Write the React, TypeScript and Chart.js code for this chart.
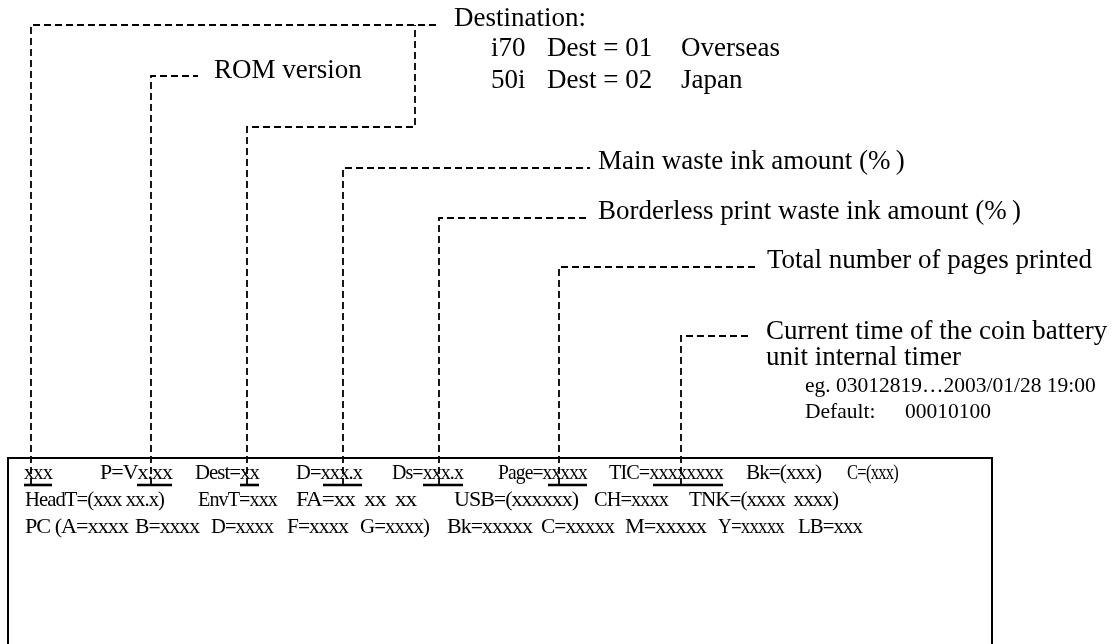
import React, { useEffect, useRef } from "react";
import { Chart, registerables } from "chart.js";

Chart.register(...registerables);

// ---- Leader lines (diagram coordinates: x to the right, y downward) ----
const leaderXxx = [[31, 485], [31, 25], [437, 25]];
const leaderDest = [[247, 485], [247, 127], [415, 127], [415, 25]];
const leaderRom = [[151, 485], [151, 76], [198, 76]];
const leaderMain = [[343, 485], [343, 168], [590, 168]];
const leaderBorderless = [[439, 485], [439, 218], [590, 218]];
const leaderPage = [[559, 485], [559, 267], [755, 267]];
const leaderTic = [[681, 485], [681, 336], [752, 336]];

// ---- Print-out frame ----
const frameOutline = [[8, 660], [8, 458], [992, 458], [992, 660]];

// ---- Underlined fields in first row ----
const underlineStart = [24, 137, 240, 323, 423, 548, 653];
const underlineEnd = [52, 172, 259, 362, 463, 587, 723];
const underlineY = 485;

// ---- Callout labels ----
const calloutText = [
  "Destination:",
  "ROM version",
  "Main waste ink amount (%\u2009)",
  "Borderless print waste ink amount (%\u2009)",
  "Total number of pages printed",
  "Current time of the coin battery",
  "unit internal timer",
];
const calloutX = [454, 214, 598, 598, 767, 766, 766];
const calloutY = [19, 71, 162, 212, 261, 332, 358];

// ---- Destination table ----
const destModels = ["i70", "50i"];
const destCodes = ["Dest = 01", "Dest = 02"];
const destRegions = ["Overseas", "Japan"];
const destRowY = [49, 81];
const destColX = [491, 547, 681];

// ---- Timer notes ----
const noteText = ["eg. 03012819…2003/01/28 19:00", "Default:", "00010100"];
const noteX = [805, 805, 905];
const noteY = [386, 412, 412];

// ---- Print-out rows ----
const row1Text = ["xxx", "P=Vx.xx", "Dest=xx", "D=xxx.x", "Ds=xxx.x", "Page=xxxxx", "TIC=xxxxxxxx", "Bk=(xxx)", "C=(xxx)"];
const row1X = [24, 100, 195, 296, 392, 498, 609, 746, 847];
const row1W = [28, 72, 64, 66, 71, 89, 114, 75, 51];
const row2Text = ["HeadT=(xxx xx.x)", "EnvT=xxx", "FA=xx  xx  xx", "USB=(xxxxxx)", "CH=xxxx", "TNK=(xxxx  xxxx)"];
const row2X = [25, 198, 296, 454, 594, 689];
const row2W = [139, 79, 120, 124, 74, 149];
const row3Text = ["PC (A=xxxx", "B=xxxx", "D=xxxx", "F=xxxx", "G=xxxx)", "Bk=xxxxx", "C=xxxxx", "M=xxxxx", "Y=xxxxx", "LB=xxx"];
const row3X = [25, 135, 211, 287, 360, 447, 541, 625, 718, 798];
const row3W = [103, 64, 62, 61, 69, 85, 73, 81, 66, 64];
const rowY = [473, 500, 527];

const LABEL_FONT = '27px "Liberation Serif"';
const NOTE_FONT = '21.5px "Liberation Serif"';
const BOX_FONT = '22px "Liberation Serif"';

const toPts = (arr: number[][]) => arr.map(([x, y]) => ({ x, y }));

export default function App() {
  const ref = useRef<HTMLCanvasElement | null>(null);

  useEffect(() => {
    document.body.style.margin = "0";
    const canvas = ref.current;
    if (!canvas) return;

    const dashed = (data: number[][]) => ({
      type: "line" as const,
      data: toPts(data),
      borderColor: "#000",
      borderWidth: 1.8,
      borderDash: [7, 4],
      pointRadius: 0,
      fill: false,
      tension: 0,
    });
    const solid = (data: number[][], w: number) => ({
      type: "line" as const,
      data: toPts(data),
      borderColor: "#000",
      borderWidth: w,
      pointRadius: 0,
      fill: false,
      tension: 0,
    });

    const datasets: any[] = [
      dashed(leaderXxx),
      dashed(leaderDest),
      dashed(leaderRom),
      dashed(leaderMain),
      dashed(leaderBorderless),
      dashed(leaderPage),
      dashed(leaderTic),
      solid(frameOutline, 2),
    ];
    underlineStart.forEach((s, i) => {
      datasets.push(solid([[s, underlineY], [underlineEnd[i], underlineY]], 2.6));
    });

    const textPlugin = {
      id: "diagramText",
      afterDatasetsDraw(chart: any) {
        const ctx = chart.ctx as any;
        const xs = chart.scales.x;
        const ys = chart.scales.y;
        const put = (t: string, x: number, y: number, font: string) => {
          ctx.font = font;
          ctx.fillText(t, xs.getPixelForValue(x), ys.getPixelForValue(y));
        };
        // condensed print-out text, squeezed to an exact width
        const putFit = (t: string, x: number, y: number, w: number) => {
          ctx.font = BOX_FONT;
          const px = xs.getPixelForValue(x);
          const py = ys.getPixelForValue(y);
          const pw = xs.getPixelForValue(x + w) - px;
          const natural = ctx.measureText(t).width || 1;
          ctx.save();
          ctx.translate(px, py);
          ctx.scale(pw / natural, 1);
          ctx.fillText(t, 0, 0);
          ctx.restore();
        };
        ctx.save();
        ctx.fillStyle = "#000";
        ctx.textBaseline = "middle";
        ctx.textAlign = "left";
        calloutText.forEach((t, i) => put(t, calloutX[i], calloutY[i], LABEL_FONT));
        destModels.forEach((m, i) => {
          put(m, destColX[0], destRowY[i], LABEL_FONT);
          put(destCodes[i], destColX[1], destRowY[i], LABEL_FONT);
          put(destRegions[i], destColX[2], destRowY[i], LABEL_FONT);
        });
        noteText.forEach((t, i) => put(t, noteX[i], noteY[i], NOTE_FONT));
        ctx.letterSpacing = "-1px";
        row1Text.forEach((t, i) => putFit(t, row1X[i], rowY[0], row1W[i]));
        row2Text.forEach((t, i) => putFit(t, row2X[i], rowY[1], row2W[i]));
        row3Text.forEach((t, i) => putFit(t, row3X[i], rowY[2], row3W[i]));
        ctx.letterSpacing = "0px";
        ctx.restore();
      },
    };

    const chart = new Chart(canvas, {
      type: "line",
      data: { datasets },
      options: {
        animation: false,
        responsive: true,
        maintainAspectRatio: false,
        layout: { padding: 0 },
        scales: {
          x: { type: "linear", min: 0, max: 1113, display: false },
          y: { type: "linear", min: 0, max: 644, reverse: true, display: false },
        },
        plugins: { legend: { display: false }, tooltip: { enabled: false } },
        events: [],
      },
      plugins: [textPlugin],
    });
    return () => chart.destroy();
  }, []);

  return (
    <div style={{ width: 1113, height: 644, position: "relative", background: "#fff" }}>
      <canvas ref={ref} />
    </div>
  );
}
